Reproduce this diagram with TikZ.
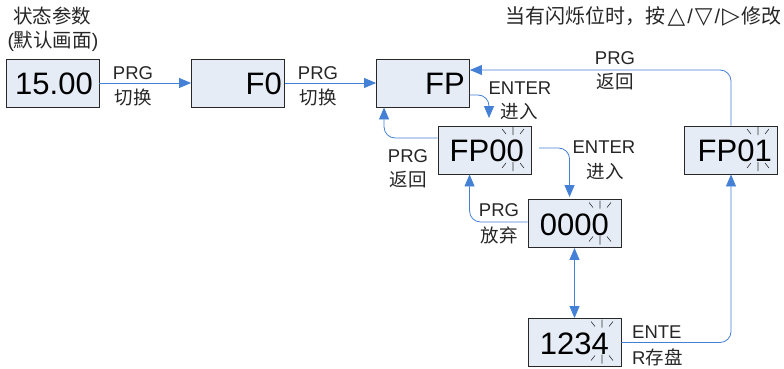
\documentclass[tikz,border=0pt]{standalone}
\usepackage{fontspec}
\setmainfont{Liberation Sans}
\newfontfamily\cjk{Noto Sans CJK SC}
\newfontfamily\symf{DejaVu Sans}
\usetikzlibrary{arrows.meta,calc}
\definecolor{boxfill}{RGB}{229,236,246}
\definecolor{boxline}{RGB}{40,40,40}
\definecolor{arr}{RGB}{68,128,214}
\newcommand{\tri}[1]{\hspace{2pt}{\symf\fontsize{23}{23}\selectfont #1}\hspace{2pt}}
\tikzset{
  box/.style={draw=boxline, line width=0.9pt, fill=boxfill, minimum width=93pt, minimum height=48pt, inner sep=0pt},
  digits/.style={font=\fontsize{31}{33}\selectfont, inner sep=0pt, anchor=base east},
  lbl/.style={font=\fontsize{18.5}{20}\selectfont, inner sep=0pt, text=black!85},
  conn/.style={draw=arr, line width=0.8pt, rounded corners=11pt, -{Triangle[length=12pt,width=10pt]}},
  dconn/.style={draw=arr, line width=0.8pt, {Triangle[length=12pt,width=10pt]}-{Triangle[length=12pt,width=10pt]}},
  blink/.pic={
    \draw[black!80, line width=0.6pt]
      (0,-23) -- (0,-15)
      (-11,-21) -- (-7,-16)
      (11,-21) -- (7,-16)
      (0,12) -- (0,21)
      (-7,13) -- (-11,18)
      (7,13) -- (11,18);
  }
}
\begin{document}
\begin{tikzpicture}[x=1pt,y=-1pt]
\useasboundingbox (0,0) rectangle (784,369);

% boxes
\node[box] (s) at (52.5,83) {};
\node[box] (f0) at (238,83) {};
\node[box] (fp) at (423,83) {};
\node[box] (fp00) at (484.5,150) {};
\node[box] (fp01) at (731,150) {};
\node[box] (v0) at (574.5,223.5) {};
\node[box] (v1) at (574.5,342.5) {};

% box texts
\node[digits] (ts) at (93,94) {15.00};
\node[digits] (tf0) at (282,94) {F0};
\node[digits] (tfp) at (465,94) {FP};
\node[digits] (tfp00) at (524,161) {FP00};
\node[digits] (tfp01) at (772,161) {FP01};
\node[digits] (tv0) at (609,235) {0000};
\node[digits] (tv1) at (609,354) {1234};

% blinking marks
\pic at (513,150) {blink};
\pic at (758,150) {blink};
\pic at (600,223.5) {blink};
\pic at (602,342.5) {blink};

% connectors
\draw[conn] (s.east) -- (f0.west);
\draw[conn] (f0.east) -- (fp.west);
\draw[conn] (fp01.north) |- ([yshift=13pt]fp.east);
\coordinate (e1) at (489,118);
\draw[conn] ([yshift=-12pt]fp.east) -| (e1);
\draw[conn] ([yshift=12pt]fp00.west) -| ([xshift=8pt]fp.south west);
\coordinate (e2s) at (539,148);
\draw[conn] (e2s) -| ([xshift=42pt,yshift=2pt]v0.north west);
\draw[conn] ([yshift=1.5pt]v0.west) -| ([xshift=32pt]fp00.south west);
\draw[dconn] (v0.south) -- (v1.north);
\draw[conn] (v1.east) -| (fp01.south);

% labels
\node[lbl] (l1a) at (133,73) {PRG};
\node[lbl] (l1b) at (133,97) {\cjk 切换};
\node[lbl] (l2a) at (318,73) {PRG};
\node[lbl] (l2b) at (318,97) {\cjk 切换};
\node[lbl] (l3a) at (615,58) {PRG};
\node[lbl] (l3b) at (615,82) {\cjk 返回};
\node[lbl] (l4a) at (520,88) {ENTER};
\node[lbl] (l4b) at (519,112) {\cjk 进入};
\node[lbl] (l5a) at (408,156) {PRG};
\node[lbl] (l5b) at (408,180) {\cjk 返回};
\node[lbl] (l6a) at (604,147) {ENTER};
\node[lbl] (l6b) at (605,172) {\cjk 进入};
\node[lbl] (l7a) at (499,210) {PRG};
\node[lbl] (l7b) at (499,235) {\cjk 放弃};
\node[lbl, anchor=west] (l8a) at (632,332) {ENTE};
\node[lbl, anchor=west] (l8b) at (632,357) {R{\cjk 存盘}};

\node[lbl, font=\fontsize{19.5}{21}\selectfont] (t1) at (52,16) {\cjk 状态参数};
\node[lbl, font=\fontsize{19.5}{21}\selectfont] (t2) at (53,41) {({\cjk 默认画面})};
\node[lbl, anchor=east, font=\fontsize{20}{22}\selectfont] (t3) at (782,16) {{\cjk 当有闪烁位时，按}\tri{△}/\tri{▽}/\tri{▷}{\cjk 修改}};
\end{tikzpicture}
\end{document}
